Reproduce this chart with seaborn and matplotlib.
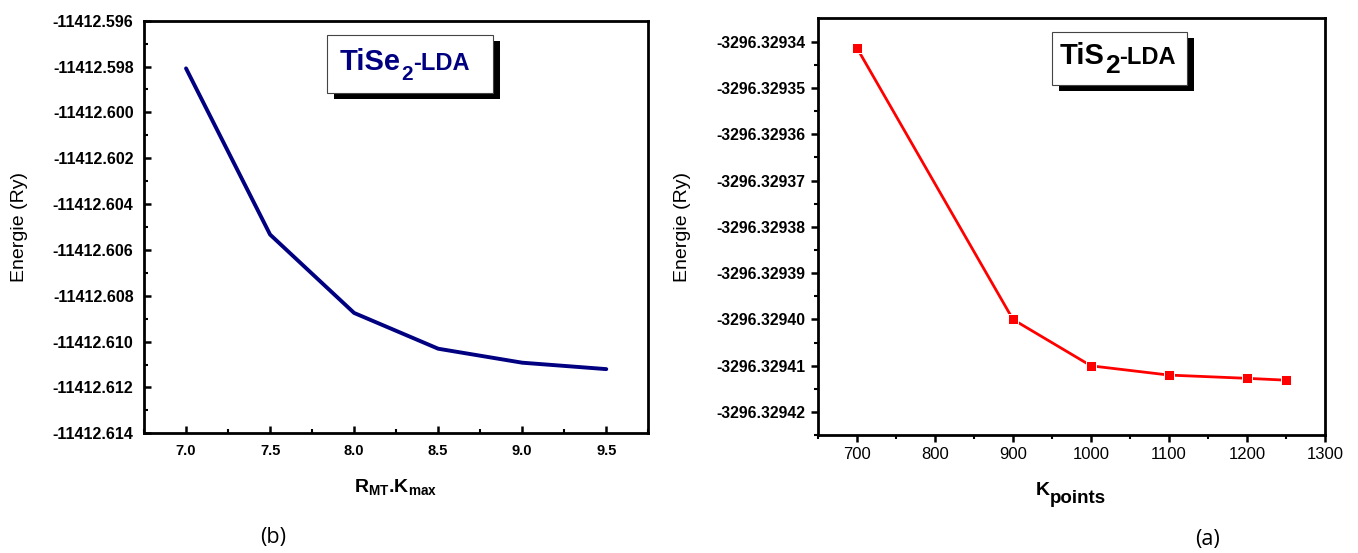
import matplotlib
matplotlib.use("Agg")
import matplotlib.pyplot as plt
import seaborn as sns
import numpy as np
import pandas as pd
from matplotlib.ticker import FixedLocator, FormatStrFormatter, AutoMinorLocator
from matplotlib.patches import Rectangle
from matplotlib.text import Annotation

# ---------------- data ----------------
rmt_kmax = [7.0, 7.5, 8.0, 8.5, 9.0, 9.5]
energy_tise2 = [-11412.59808, -11412.60533, -11412.60875, -11412.61031, -11412.61092, -11412.61120]

kpoints = [700, 900, 1000, 1100, 1200, 1250]
energy_tis2 = [-3296.3293414, -3296.3294000, -3296.3294100, -3296.3294120, -3296.3294127, -3296.3294131]

left_yticks = [-11412.596, -11412.598, -11412.600, -11412.602, -11412.604,
               -11412.606, -11412.608, -11412.610, -11412.612, -11412.614]
left_xticks = [7.0, 7.5, 8.0, 8.5, 9.0, 9.5]
right_yticks = [-3296.32934, -3296.32935, -3296.32936, -3296.32937, -3296.32938,
                -3296.32939, -3296.32940, -3296.32941, -3296.32942]
right_xticks = [700, 800, 900, 1000, 1100, 1200, 1300]

# ---------------- style ----------------
sns.set_style("ticks")
plt.rcParams["font.family"] = ["Liberation Sans", "DejaVu Sans"]
plt.rcParams["mathtext.fontset"] = "custom"
plt.rcParams["mathtext.rm"] = "Liberation Sans"
plt.rcParams["mathtext.bf"] = "Liberation Sans:bold"
plt.rcParams["mathtext.it"] = "Liberation Sans:italic"
for key in ["text.color", "axes.labelcolor", "xtick.color", "ytick.color", "axes.edgecolor"]:
    plt.rcParams[key] = "black"

W, H = 1358, 553
fig = plt.figure(figsize=(W / 100, H / 100), dpi=100)
fig.patch.set_facecolor("white")


def fx(px):
    return px / W


def fy(py):
    return 1 - py / H


ax1 = fig.add_axes([fx(144), fy(433.3), (648.3 - 144) / W, (433.3 - 20.7) / H])
ax2 = fig.add_axes([fx(818), fy(435.3), (1325 - 818) / W, (435.3 - 18.4) / H])

navy = "#000080"
sns.lineplot(x=rmt_kmax, y=energy_tise2, ax=ax1, color=navy, lw=2.8)
sns.lineplot(x=kpoints, y=energy_tis2, ax=ax2, color="#ff0000", lw=2.0,
             marker="s", markersize=7, markeredgecolor="white", markeredgewidth=0.7)

# ---------------- left axes ----------------
ax1.set_xlim(6.75, 9.75)
ax1.set_ylim(-11412.614, -11412.596)
ax1.yaxis.set_major_locator(FixedLocator(left_yticks))
ax1.yaxis.set_major_formatter(FormatStrFormatter("%.3f"))
ax1.xaxis.set_major_locator(FixedLocator(left_xticks))
ax1.xaxis.set_major_formatter(FormatStrFormatter("%.1f"))
ax1.xaxis.set_minor_locator(AutoMinorLocator(2))
ax1.yaxis.set_minor_locator(AutoMinorLocator(2))
ax1.tick_params(axis="both", which="both", bottom=True, left=True, top=False, right=False)
ax1.tick_params(axis="both", which="major", direction="in", length=5, width=1.8,
                colors="black")
ax1.tick_params(axis="both", which="minor", direction="in", length=3, width=1.5)
ax1.tick_params(axis="y", which="major", pad=7.5, labelsize=11.5)
ax1.tick_params(axis="x", which="major", pad=7.5, labelsize=10.5)
plt.setp(ax1.get_yticklabels(), fontweight="bold")
plt.setp(ax1.get_xticklabels(), fontweight="bold")
for s in ax1.spines.values():
    s.set_linewidth(2.0)
    s.set_color("black")
ax1.set_ylabel("Energie (Ry)", fontsize=14)
ax1.yaxis.set_label_coords(-0.246, 0.5)
ax1.yaxis.label.set_verticalalignment("center")
ax1.set_xlabel(r"R$_{\mathbf{MT}}$.K$_{\mathbf{max}}$", fontsize=14, fontweight="bold")
ax1.xaxis.set_label_coords(0.5, -0.105)

# ---------------- right axes ----------------
ax2.set_xlim(650, 1300)
ax2.set_ylim(-3296.329425, -3296.329335)
ax2.yaxis.set_major_locator(FixedLocator(right_yticks))
ax2.yaxis.set_major_formatter(FormatStrFormatter("%.5f"))
ax2.xaxis.set_major_locator(FixedLocator(right_xticks))
ax2.xaxis.set_major_formatter(FormatStrFormatter("%d"))
ax2.xaxis.set_minor_locator(AutoMinorLocator(2))
ax2.yaxis.set_minor_locator(AutoMinorLocator(2))
ax2.tick_params(axis="both", which="both", bottom=True, left=True, top=False, right=False)
ax2.tick_params(axis="both", which="major", direction="out", length=5, width=1.8,
                colors="black")
ax2.tick_params(axis="both", which="minor", direction="out", length=2.8, width=1.5)
ax2.tick_params(axis="y", which="major", labelsize=11.3, pad=4.0)
ax2.tick_params(axis="x", which="major", labelsize=12, pad=3.5)
plt.setp(ax2.get_yticklabels(), fontweight="bold")
for s in ax2.spines.values():
    s.set_linewidth(2.0)
    s.set_color("black")
ax2.set_ylabel("Energie (Ry)", fontsize=14)
ax2.yaxis.set_label_coords(-0.268, 0.5)
ax2.yaxis.label.set_verticalalignment("center")
ax2.set_xlabel("")

# K_points label
tK = fig.text(fx(1036), fy(494.6), "K", fontsize=14, fontweight="bold",
              ha="left", va="baseline")
fig.add_artist(Annotation("points", xy=(1, fy(502.8)), xycoords=(tK, "figure fraction"),
                          fontsize=13.5, fontweight="bold", ha="left", va="baseline"))

# ---------------- boxed labels ----------------
def boxed(x0, y0, x1, y1, dx, dy):
    fig.add_artist(Rectangle((fx(x0 + dx), fy(y1 + dy)), (x1 - x0) / W, (y1 - y0) / H,
                             transform=fig.transFigure, facecolor="black",
                             edgecolor="none", zorder=5))
    fig.add_artist(Rectangle((fx(x0), fy(y1)), (x1 - x0) / W, (y1 - y0) / H,
                             transform=fig.transFigure, facecolor="white",
                             edgecolor="#444444", lw=0.8, zorder=6))


def chained(x, y_main, y_sub, parts, color):
    (s1, f1), (s2, f2), (s3, f3) = parts
    a = fig.text(fx(x), fy(y_main), s1, fontsize=f1, fontweight="bold", color=color,
                 ha="left", va="baseline", zorder=7)
    b = Annotation(s2, xy=(1, fy(y_sub)), xycoords=(a, "figure fraction"),
                   fontsize=f2, fontweight="bold", color=color, ha="left",
                   va="baseline", zorder=7)
    fig.add_artist(b)
    c = Annotation(s3, xy=(1, fy(y_main)), xycoords=(b, "figure fraction"),
                   fontsize=f3, fontweight="bold", color=color, ha="left",
                   va="baseline", zorder=7)
    fig.add_artist(c)


boxed(327, 35, 493, 92.7, 7, 6.3)
chained(340, 70, 80, [("TiSe", 21), ("2", 15), ("-LDA", 17)], navy)

boxed(1052, 32, 1187, 85, 7, 6)
chained(1060, 64.5, 72.7, [("TiS", 21), ("2", 19), ("-LDA", 17)], "black")

# ---------------- panel captions ----------------
fig.text(fx(273), fy(538), "(b)", fontsize=15.5, ha="center", va="center",
         family=["Open Sans", "DejaVu Sans"])
fig.text(fx(1208), fy(540), "(a)", fontsize=15.5, ha="center", va="center",
         family=["Open Sans", "DejaVu Sans"])

fig.savefig("out.png", dpi=100, facecolor="white")
